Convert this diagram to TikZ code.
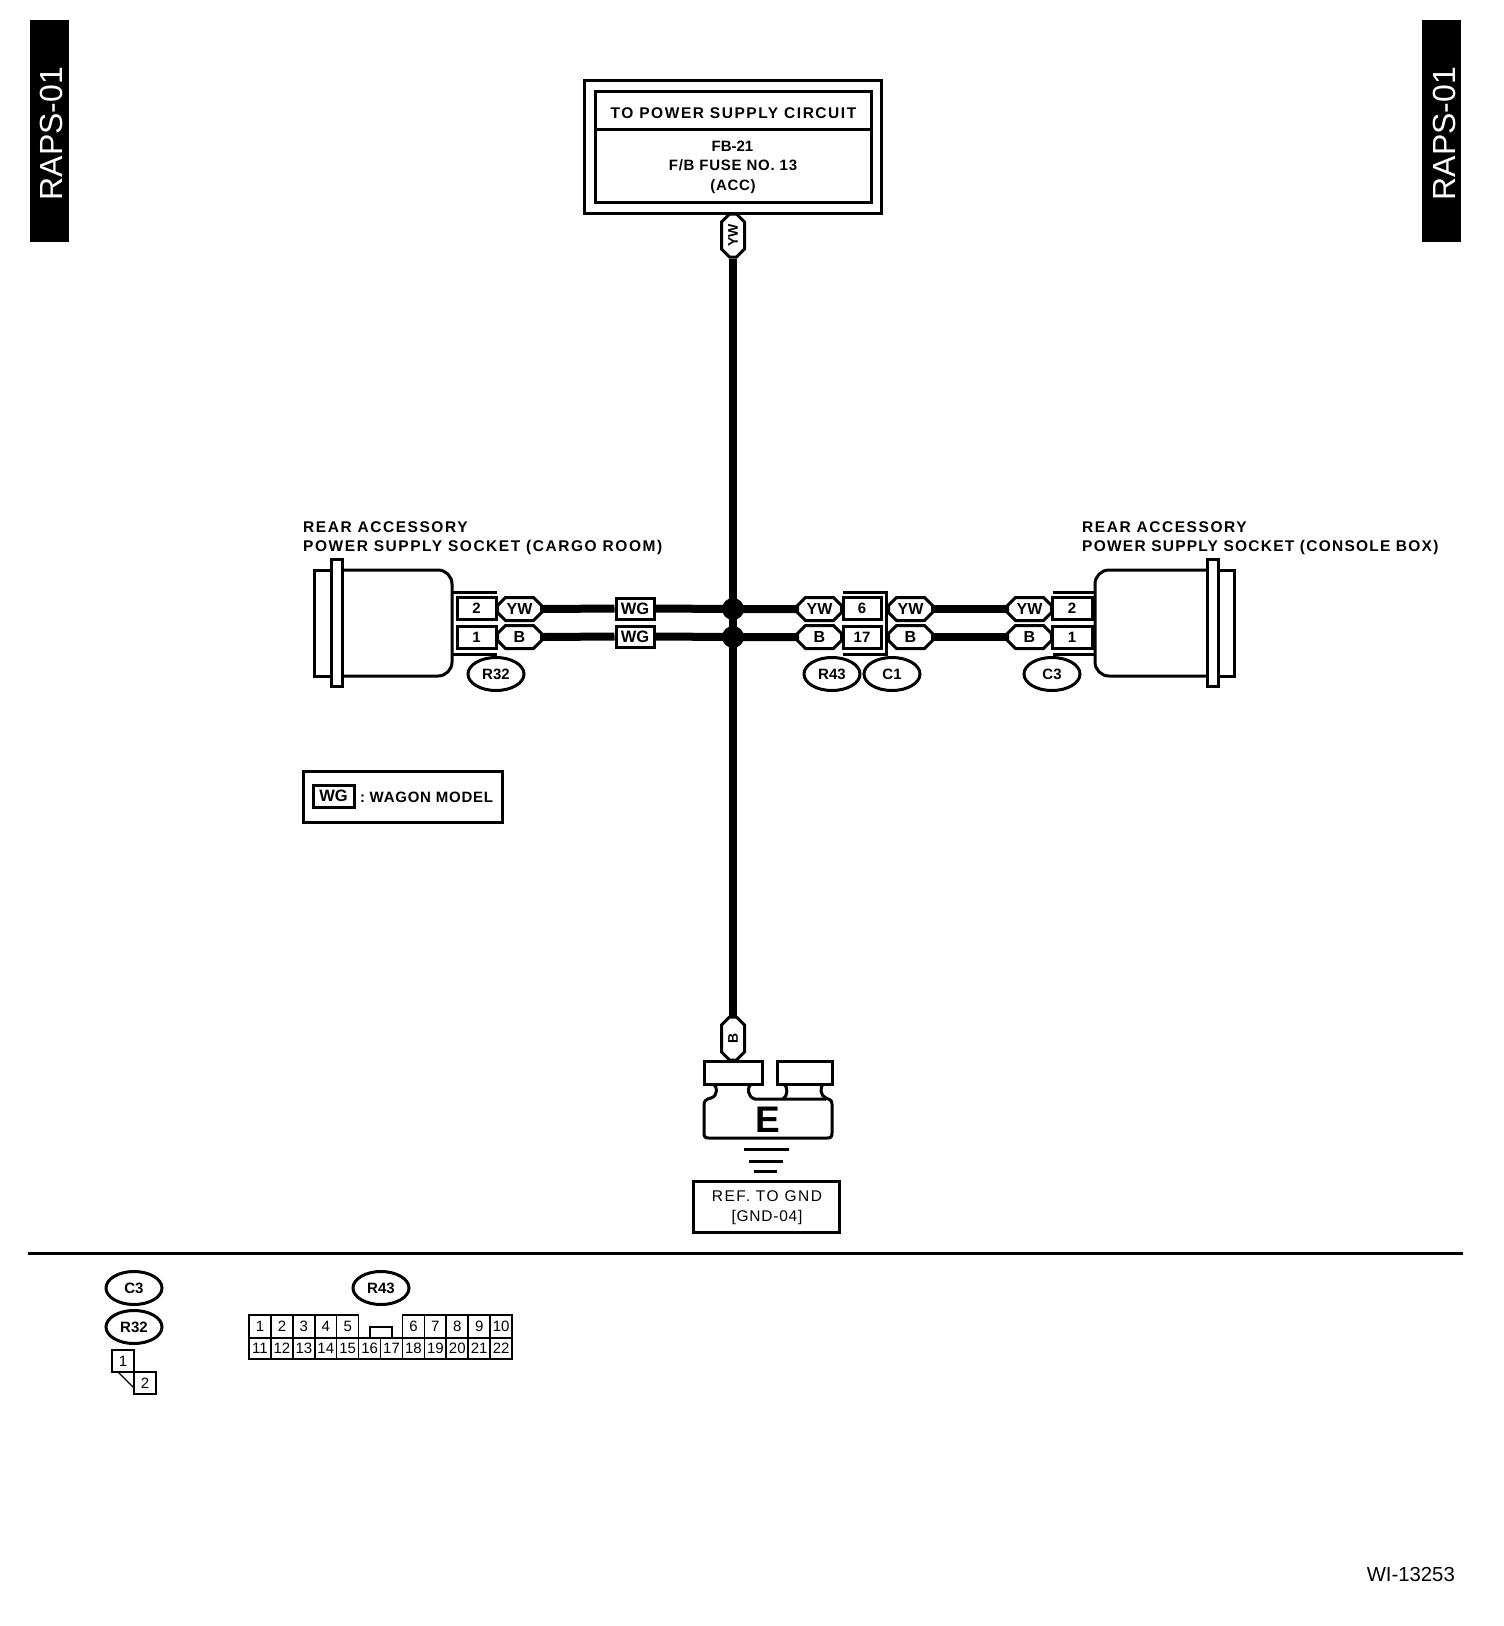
\documentclass[tikz,border=0pt]{standalone}
\usepackage{fontspec}
\setmainfont{Liberation Sans}
\newfontfamily\labfont[LetterSpace=10,BoldFont={Liberation Sans Bold}]{Liberation Sans}
\newfontfamily\labtight[LetterSpace=8,BoldFont={Liberation Sans Bold}]{Liberation Sans}
\newfontfamily\midfont[LetterSpace=5,BoldFont={Liberation Sans Bold}]{Liberation Sans}
\usetikzlibrary{shapes.misc,shapes.geometric,backgrounds}
\tikzset{
  std/.style={line width=3pt},
  wire/.style={line width=8pt,line cap=butt},
  lab/.style={font=\fontsize{15.5}{19}\labfont\bfseries,inner sep=0pt},
  small/.style={font=\fontsize{15}{18}\selectfont\bfseries,inner sep=0pt},
  smallsp/.style={font=\fontsize{15}{18}\midfont\bfseries,inner sep=0pt},
  pinbox/.style={draw,std,fill=white,inner sep=0pt,font=\fontsize{15}{18}\selectfont\bfseries},
  tag/.style={chamfered rectangle,chamfered rectangle xsep=4pt,chamfered rectangle ysep=4pt,draw,std,fill=white,inner sep=0pt,minimum width=44pt,minimum height=23pt,font=\fontsize{16}{18}\selectfont\bfseries},
  vtag/.style={chamfered rectangle,chamfered rectangle xsep=4pt,chamfered rectangle ysep=4pt,draw,std,fill=white,inner sep=0pt,minimum width=23pt,minimum height=43pt,font=\fontsize{14}{16}\selectfont\bfseries},
  wg/.style={draw,std,fill=white,inner sep=0pt,minimum width=38pt,minimum height=21pt,font=\fontsize{16.5}{18}\selectfont\bfseries},
  ref/.style={ellipse,draw,std,fill=white,inner sep=0pt,minimum width=56pt,minimum height=33pt,font=\fontsize{15}{18}\selectfont\bfseries},
  dot/.style={circle,fill=black,inner sep=0pt,minimum size=22pt},
  pin/.style={draw,line width=1.6pt,fill=white,inner sep=0pt,minimum width=22pt,font=\fontsize{15}{18}\selectfont},
  tab/.style={fill=black,inner sep=0pt,minimum width=39pt,minimum height=222pt},
  tabtxt/.style={text=white,inner sep=0pt,font=\fontsize{32}{36}\selectfont,rotate=90}
}
\begin{document}
\begin{tikzpicture}[x=1pt,y=-1pt]
\useasboundingbox (0,0) rectangle (1504,1626);
% side tabs
\node[tab] (tabL) at (49.5,131) {};
\node[tabtxt] (tabLt) at (51.5,133.5) {RAPS-01};
\node[tab] (tabR) at (1441.5,131) {};
\node[tabtxt] (tabRt) at (1444.5,133.5) {RAPS-01};
% fuse box
\draw[std] (584,80) rectangle (881,213);
\node[draw,std,minimum width=276pt,minimum height=111pt,inner sep=0pt] (fuse) at (733,146.5) {};
\draw[std] (595,129) -- (871,129);
\node[lab,anchor=base] (fuseA) at (733.5,118) {TO POWER SUPPLY CIRCUIT};
\node[small,anchor=base] (fuseB) at (732.5,151) {FB-21};
\node[smallsp,anchor=base] (fuseC) at (733,170.5) {F/B FUSE NO. 13};
\node[smallsp,anchor=base] (fuseD) at (733,190) {(ACC)};
% junctions and nodes
\node[vtag] (vYW) at (733,235.5) {\rotatebox{90}{YW}};
\node[vtag] (vB) at (733,1038.5) {\rotatebox{90}{B}};
\coordinate (j1) at (733,609);
\coordinate (j2) at (733,637);
% left socket
\draw[std] (342,570) -- (438,570) arc[start angle=90,end angle=0,radius=14pt] -- (452,662) arc[start angle=0,end angle=-90,radius=14pt] -- (342,676);
\draw[std] (331,570) -- (314,570) -- (314,676) -- (331,676);
\draw[std] (331,559) rectangle (342,686);
\draw[std] (452,592) -- (497,592) (452,654) -- (497,654);
\node[pinbox,minimum width=39pt,minimum height=22pt] (p2L) at (476.5,608.5) {2};
\node[pinbox,minimum width=39pt,minimum height=22pt] (p1L) at (476.5,637) {1};
\node[tag] (yL) at (519.5,609) {YW};
\node[tag] (bL) at (519.5,637) {B};
\node[wg] (wg1) at (635,608.5) {WG};
\node[wg] (wg2) at (635,636.5) {WG};
\node[ref] (rR32) at (496,674) {R32};
\node[lab,anchor=base west,align=left] (labL) at (303,551) {REAR ACCESSORY\\POWER SUPPLY SOCKET (CARGO ROOM)};
% centre connector
\node[tag] (yM) at (819.5,609) {YW};
\node[tag] (bM) at (819.5,637) {B};
\node[pinbox,minimum width=38pt,minimum height=22pt] (p6) at (862,608.5) {6};
\node[pinbox,minimum width=38pt,minimum height=22pt] (p17) at (862,637) {17};
\draw[std] (843,592) -- (886.5,592) -- (886.5,654) -- (843,654);
\node[tag] (yN) at (910.5,609) {YW};
\node[tag] (bN) at (910.5,637) {B};
\node[ref] (rR43) at (832,674) {R43};
\node[ref] (rC1) at (892,674) {C1};
% right socket
\node[tag] (yR) at (1029.5,609) {YW};
\node[tag] (bR) at (1029.5,637) {B};
\node[pinbox,minimum width=40pt,minimum height=22pt] (p2R) at (1072,608.5) {2};
\node[pinbox,minimum width=40pt,minimum height=22pt] (p1R) at (1072,637) {1};
\draw[std] (1053,592) -- (1095,592) (1053,654) -- (1095,654);
\draw[std] (1207,570) -- (1109,570) arc[start angle=90,end angle=180,radius=14pt] -- (1095,662) arc[start angle=180,end angle=270,radius=14pt] -- (1207,676);
\draw[std] (1218,570) -- (1234,570) -- (1234,676) -- (1218,676);
\draw[std] (1207,559) rectangle (1218,686);
\node[ref] (rC3) at (1052,674) {C3};
\node[lab,anchor=base west,align=left] (labR) at (1082,551) {REAR ACCESSORY\\{\labtight\bfseries POWER SUPPLY SOCKET (CONSOLE BOX)}};
% wires
\draw[wire] (vYW.south) -- (j1) -- (j2) -- (vB.north);
\draw[wire] (yL.east) -- (wg1.west) (wg1.east) -- (j1) -- (yM.west);
\draw[wire] (bL.east) -- (wg2.west) (wg2.east) -- (j2) -- (bM.west);
\draw[wire] (yN.east) -- (yR.west);
\draw[wire] (bN.east) -- (bR.west);
\node[dot] (d1) at (j1) {};
\node[dot] (d2) at (j2) {};
% legend
\node[draw,std,minimum width=199pt,minimum height=51pt,inner sep=0pt] (legend) at (403,796.5) {};
\node[wg,minimum width=41pt,minimum height=22pt] (legWG) at (333.5,796) {WG};
\node[smallsp,anchor=base west] (legT) at (360,802) {:\hspace{-2pt} WAGON MODEL};
% ground
\draw[std,fill=white] (704,1061) rectangle (762,1084);
\draw[std,fill=white] (777,1061) rectangle (832,1084);
\draw[std] (713,1084) .. controls (718,1086) and (718,1096) .. (711,1098) .. controls (706,1099) and (704,1101) .. (704,1105) -- (704,1133) .. controls (704,1137) and (705,1138) .. (709,1138) -- (827,1138) .. controls (831,1138) and (832,1137) .. (832,1133) -- (832,1104) .. controls (832,1100) and (829,1099) .. (826,1098) .. controls (820,1096) and (820,1087) .. (823,1084);
\draw[std] (751,1084) .. controls (747,1087) and (747,1097) .. (755,1099) -- (826,1099);
\draw[std] (784,1084) .. controls (788,1087) and (788,1096) .. (783,1099);
\node[inner sep=0pt,font=\fontsize{37}{40}\selectfont\bfseries,anchor=base] (gE) at (768,1132) {E};
\draw[std] (744,1149) -- (789,1149) (749,1161) -- (783,1161) (754,1171) -- (777,1171);
\node[draw,std,minimum width=146pt,minimum height=51pt,inner sep=0pt] (gbox) at (766.5,1206.5) {};
\node[inner sep=0pt,font=\fontsize{15.5}{19}\labfont,anchor=base] (gA) at (767,1201) {REF. TO GND};
\node[inner sep=0pt,font=\fontsize{15.5}{18}\midfont,anchor=base] (gB) at (767,1221) {[GND-04]};
% rule
\draw[std] (28,1253) -- (1463,1253);
% connector views
\node[ref] (vC3) at (134,1288) {C3};
\node[ref] (vR32) at (134,1327) {R32};
\node[pin,minimum height=22pt] (b1) at (123,1361) {1};
\node[pin,minimum height=22pt] (b2) at (145,1383) {2};
\draw[line width=1.2pt] (118,1372) -- (134,1388);
\node[ref] (vR43) at (381,1288) {R43};
\foreach \n [count=\i from 0] in {1,2,3,4,5} \node[pin,minimum height=23pt] (t\n) at (260+\i*21.92,1326.5) {\n};
\foreach \n [count=\i from 7] in {6,7,8,9,10} \node[pin,minimum height=23pt] (t\n) at (260+\i*21.92,1326.5) {\n};
\foreach \n [count=\i from 0] in {11,12,13,14,15,16,17,18,19,20,21,22} \node[pin,minimum height=21pt] (t\n) at (260+\i*21.92,1348.5) {\n};
\draw[line width=1.6pt] (370,1338) -- (370,1327) -- (392,1327) -- (392,1338);
% id
\node[inner sep=0pt,font=\fontsize{20.3}{24}\selectfont,anchor=base east] (wi) at (1455,1581.5) {WI-13253};
\end{tikzpicture}
\end{document}
